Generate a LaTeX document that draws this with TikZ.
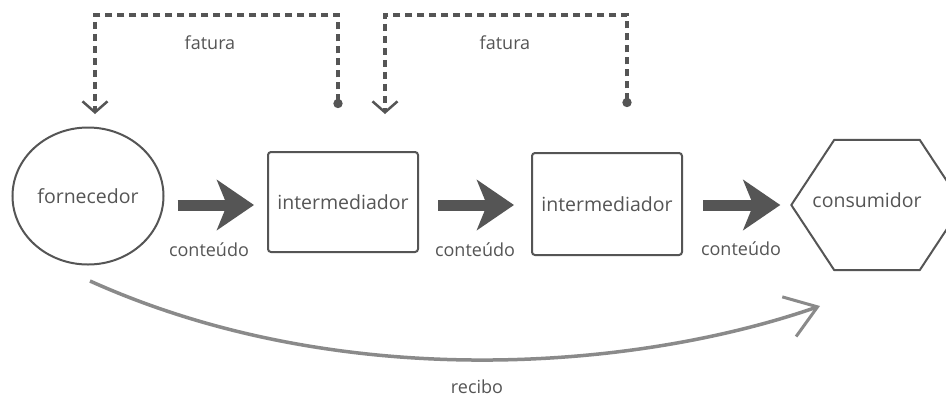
\documentclass[tikz,border=0pt]{standalone}
\usepackage{fontspec}
\setmainfont{Open Sans}
\usetikzlibrary{arrows.meta,calc,shapes.geometric}
\definecolor{ink}{HTML}{555555}
\definecolor{curvec}{HTML}{8A8A8A}
\definecolor{txtc}{HTML}{555555}
\begin{document}
\begin{tikzpicture}[x=1pt,y=-1pt,
  font=\fontsize{18}{21}\selectfont, text=txtc,
  nodetext/.style={font=\fontsize{19.5}{22}\selectfont},
  boxnode/.style={draw=ink, line width=2pt, rounded corners=3pt, minimum width=150pt, minimum height=100pt, inner sep=0pt, nodetext},
  circnode/.style={draw=ink, line width=2pt, ellipse, minimum width=151pt, minimum height=137pt, inner sep=0pt, nodetext},
  fatarrow/.style={draw=ink, line width=11pt, -{Stealth[length=37pt,width=50pt,inset=10pt]}},
  invoice/.style={draw=ink, line width=4.5pt, dash pattern=on 7pt off 5pt,
     {Circle[length=9pt]}-{Straight Barb[length=11pt,width=25pt,line width=2.5pt]}},
  receipt/.style={draw=curvec, line width=3.5pt, -{Straight Barb[length=30pt,width=42pt,line width=3pt]}},
  lbl/.style={inner sep=0pt}]
\useasboundingbox (0,0) rectangle (946,400);
\fill[white] (0,0) rectangle (946,400);

% nodes
\node[circnode] (forn) at (88,196) {fornecedor};
\node[boxnode] (b1) at (343,202) {intermediador};
\node[boxnode, minimum height=102pt] (b2) at (607,204) {intermediador};
\node[minimum width=171pt, minimum height=130pt, inner sep=0pt] (hex) at (877,205) {};
\begin{scope}
\clip (0,0) rectangle (946,400);
\draw[ink, line width=2pt, line join=round]
  (hex.west) -- ($(hex.north west)+(43,0)$) -- ($(hex.north east)+(-43,0)$) -- (hex.east)
  -- ($(hex.south east)+(-43,0)$) -- ($(hex.south west)+(43,0)$) -- cycle;
\end{scope}
\node[nodetext] (hext) at (867,200) {consumidor};

% content arrows
\coordinate (ay) at (0,205);
\draw[fatarrow, shorten <=13pt, shorten >=13pt] (forn.east |- ay) -- (b1.west |- ay);
\draw[fatarrow, shorten <=19pt, shorten >=17pt] (b1.east |- ay) -- (b2.west |- ay);
\draw[fatarrow, shorten <=20pt, shorten >=11pt] (b2.east |- ay) -- (hex.west |- ay);
\node[lbl] (c1) at (209,250) {conteúdo};
\node[lbl] (c2) at (475,250) {conteúdo};
\node[lbl] (c3) at (741,249) {conteúdo};

% invoices
\coordinate (top) at (0,15);
\coordinate (d1s) at (338,108);
\coordinate (d1e) at (95,114);
\coordinate (d2s) at (627,107);
\coordinate (d2e) at (385,114);
\draw[invoice] (d1s) -- (d1s |- top) -| (d1e);
\draw[invoice] (d2s) -- (d2s |- top) -| (d2e);
\node[lbl] (f1) at (210,43) {fatura};
\node[lbl] (f2) at (505,43) {fatura};

% receipt
\coordinate (r1) at (90,281);
\coordinate (r2) at (820,306);
\draw[receipt] (r1) .. controls (341,394) and (636,370) .. (r2);
\node[lbl] (rec) at (477,387) {recibo};
\end{tikzpicture}
\end{document}
